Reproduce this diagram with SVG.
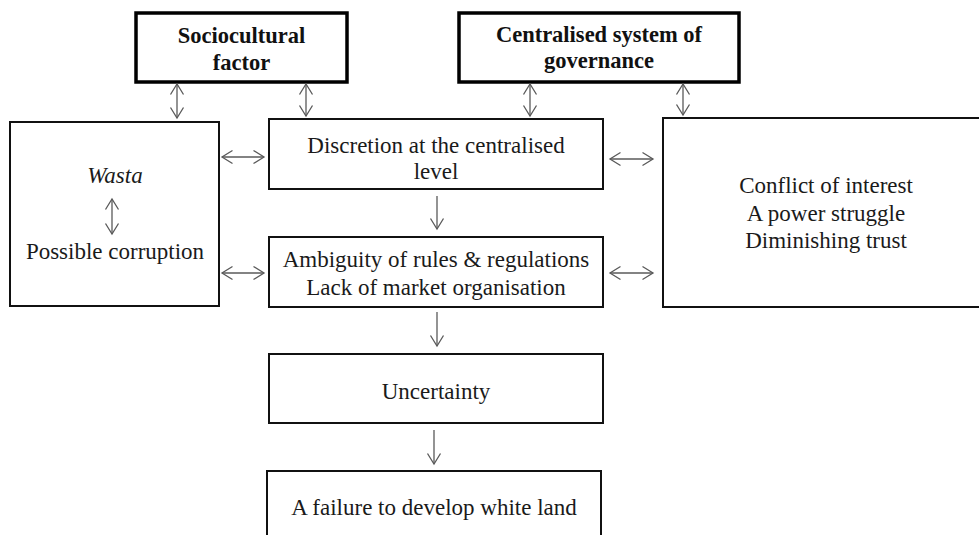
<svg xmlns="http://www.w3.org/2000/svg" width="979" height="535" viewBox="0 0 979 535">
  <style>
    .box { fill: #ffffff; stroke: #111111; stroke-width: 2; }
    .head { fill: #ffffff; stroke: #000000; stroke-width: 3.5; }
    .t { font-family: "Liberation Serif", "Times New Roman", serif; font-size: 23px; fill: #1a1a1a; text-anchor: middle; }
    .tb { font-family: "Liberation Serif", "Times New Roman", serif; font-size: 22.5px; font-weight: bold; fill: #111111; text-anchor: middle; }
    .it { font-style: italic; }
    .link { fill: none; stroke: #5a5a5a; stroke-width: 1.3; }
  </style>
  <defs>
    <marker id="vhead" markerUnits="userSpaceOnUse" markerWidth="14" markerHeight="16" viewBox="-12 -8 14 16" refX="0" refY="0" orient="auto-start-reverse">
      <path d="M -10.5 -6.5 L 0 0 L -10.5 6.5" fill="none" stroke="#5a5a5a" stroke-width="1.3"/>
    </marker>
  </defs>

  <rect width="979" height="535" fill="#ffffff"/>

  <g id="sociocultural-factor">
    <rect class="head" x="136" y="13" width="211" height="69"/>
    <text class="tb" x="241.5" y="43">Sociocultural</text>
    <text class="tb" x="241.5" y="70">factor</text>
  </g>

  <g id="centralised-governance">
    <rect class="head" x="459" y="13" width="280" height="69"/>
    <text class="tb" x="599" y="42">Centralised system of</text>
    <text class="tb" x="599" y="68">governance</text>
  </g>

  <g id="wasta">
    <rect class="box" x="10" y="122" width="209" height="184"/>
    <text class="t it" x="115" y="183">Wasta</text>
    <line class="link" x1="112" y1="199" x2="112" y2="234" marker-start="url(#vhead)" marker-end="url(#vhead)"/>
    <text class="t" x="115" y="259">Possible corruption</text>
  </g>

  <g id="discretion">
    <rect class="box" x="269" y="119" width="334" height="70"/>
    <text class="t" x="436" y="152.5">Discretion at the centralised</text>
    <text class="t" x="436" y="179">level</text>
  </g>

  <g id="ambiguity">
    <rect class="box" x="269" y="237" width="334" height="70"/>
    <text class="t" x="436" y="266.5">Ambiguity of rules &amp; regulations</text>
    <text class="t" x="436" y="295">Lack of market organisation</text>
  </g>

  <g id="conflict">
    <rect class="box" x="663" y="118" width="340" height="189"/>
    <text class="t" x="826" y="193">Conflict of interest</text>
    <text class="t" x="826" y="220.5">A power struggle</text>
    <text class="t" x="826" y="248">Diminishing trust</text>
  </g>

  <g id="uncertainty">
    <rect class="box" x="269" y="354" width="334" height="69"/>
    <text class="t" x="436" y="399">Uncertainty</text>
  </g>

  <g id="failure">
    <rect class="box" x="267" y="471" width="334" height="80"/>
    <text class="t" x="434" y="515">A failure to develop white land</text>
  </g>

  <g id="connectors">
    <!-- two-way links from the top factors -->
    <line class="link" x1="177" y1="84" x2="177" y2="118" marker-start="url(#vhead)" marker-end="url(#vhead)"/>
    <line class="link" x1="306" y1="84" x2="306" y2="116" marker-start="url(#vhead)" marker-end="url(#vhead)"/>
    <line class="link" x1="530" y1="84" x2="530" y2="116" marker-start="url(#vhead)" marker-end="url(#vhead)"/>
    <line class="link" x1="683" y1="84" x2="683" y2="115" marker-start="url(#vhead)" marker-end="url(#vhead)"/>
    <!-- two-way side links -->
    <line class="link" x1="222" y1="157" x2="264" y2="157" marker-start="url(#vhead)" marker-end="url(#vhead)"/>
    <line class="link" x1="222" y1="273" x2="264" y2="273" marker-start="url(#vhead)" marker-end="url(#vhead)"/>
    <line class="link" x1="610" y1="159" x2="653" y2="159" marker-start="url(#vhead)" marker-end="url(#vhead)"/>
    <line class="link" x1="610" y1="273" x2="653" y2="273" marker-start="url(#vhead)" marker-end="url(#vhead)"/>
    <!-- downward chain -->
    <line class="link" x1="437" y1="196" x2="437" y2="229" marker-end="url(#vhead)"/>
    <line class="link" x1="437" y1="312" x2="437" y2="346" marker-end="url(#vhead)"/>
    <line class="link" x1="434" y1="430" x2="434" y2="464" marker-end="url(#vhead)"/>
  </g>
</svg>
